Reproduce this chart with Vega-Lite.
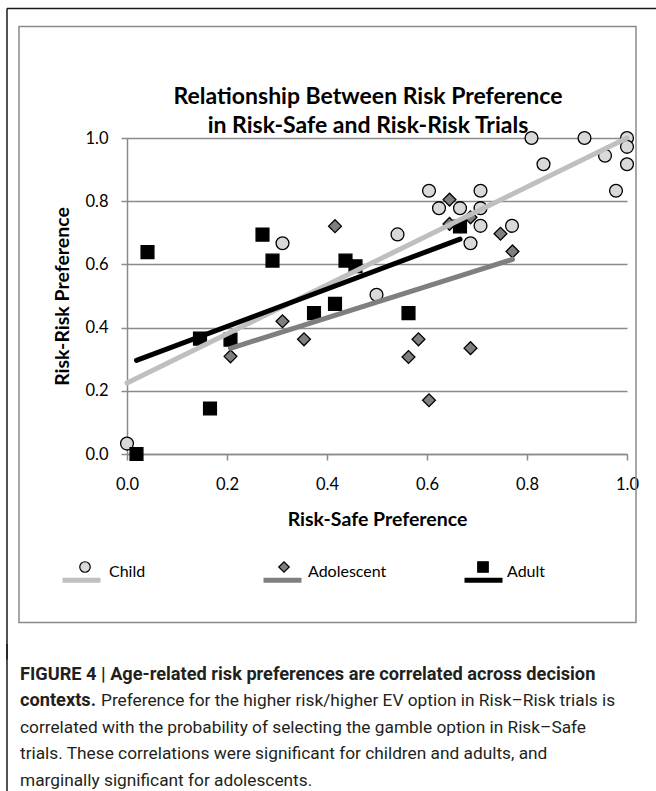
{
  "$schema": "https://vega.github.io/schema/vega-lite/v6.json",
  "background": "#ffffff",
  "padding": {"left": 6, "top": 7, "right": 0, "bottom": 0},
  "spacing": 190,
  "bounds": "flush",
  "config": {"view": {"stroke": null}, "font": "Lato"},
  "datasets": {
    "points": [
      {"group": "Child", "riskSafe": 0.0, "riskRisk": 0.033},
      {"group": "Child", "riskSafe": 0.311, "riskRisk": 0.667},
      {"group": "Child", "riskSafe": 0.499, "riskRisk": 0.504},
      {"group": "Child", "riskSafe": 0.541, "riskRisk": 0.695},
      {"group": "Child", "riskSafe": 0.604, "riskRisk": 0.833},
      {"group": "Child", "riskSafe": 0.624, "riskRisk": 0.778},
      {"group": "Child", "riskSafe": 0.666, "riskRisk": 0.778},
      {"group": "Child", "riskSafe": 0.687, "riskRisk": 0.667},
      {"group": "Child", "riskSafe": 0.707, "riskRisk": 0.833},
      {"group": "Child", "riskSafe": 0.707, "riskRisk": 0.778},
      {"group": "Child", "riskSafe": 0.707, "riskRisk": 0.722},
      {"group": "Child", "riskSafe": 0.77, "riskRisk": 0.722},
      {"group": "Child", "riskSafe": 0.809, "riskRisk": 1.0},
      {"group": "Child", "riskSafe": 0.833, "riskRisk": 0.917},
      {"group": "Child", "riskSafe": 0.915, "riskRisk": 1.0},
      {"group": "Child", "riskSafe": 0.956, "riskRisk": 0.944},
      {"group": "Child", "riskSafe": 0.978, "riskRisk": 0.833},
      {"group": "Child", "riskSafe": 1.0, "riskRisk": 1.0},
      {"group": "Child", "riskSafe": 1.0, "riskRisk": 0.972},
      {"group": "Child", "riskSafe": 1.0, "riskRisk": 0.917},
      {"group": "Adolescent", "riskSafe": 0.207, "riskRisk": 0.309},
      {"group": "Adolescent", "riskSafe": 0.311, "riskRisk": 0.42},
      {"group": "Adolescent", "riskSafe": 0.354, "riskRisk": 0.363},
      {"group": "Adolescent", "riskSafe": 0.416, "riskRisk": 0.721},
      {"group": "Adolescent", "riskSafe": 0.563, "riskRisk": 0.307},
      {"group": "Adolescent", "riskSafe": 0.583, "riskRisk": 0.363},
      {"group": "Adolescent", "riskSafe": 0.604, "riskRisk": 0.17},
      {"group": "Adolescent", "riskSafe": 0.645, "riskRisk": 0.805},
      {"group": "Adolescent", "riskSafe": 0.645, "riskRisk": 0.728},
      {"group": "Adolescent", "riskSafe": 0.687, "riskRisk": 0.749},
      {"group": "Adolescent", "riskSafe": 0.687, "riskRisk": 0.335},
      {"group": "Adolescent", "riskSafe": 0.747, "riskRisk": 0.697},
      {"group": "Adolescent", "riskSafe": 0.771, "riskRisk": 0.641},
      {"group": "Adult", "riskSafe": 0.019, "riskRisk": 0.0},
      {"group": "Adult", "riskSafe": 0.041, "riskRisk": 0.639},
      {"group": "Adult", "riskSafe": 0.146, "riskRisk": 0.365},
      {"group": "Adult", "riskSafe": 0.166, "riskRisk": 0.144},
      {"group": "Adult", "riskSafe": 0.207, "riskRisk": 0.362},
      {"group": "Adult", "riskSafe": 0.271, "riskRisk": 0.694},
      {"group": "Adult", "riskSafe": 0.291, "riskRisk": 0.612},
      {"group": "Adult", "riskSafe": 0.374, "riskRisk": 0.446},
      {"group": "Adult", "riskSafe": 0.416, "riskRisk": 0.475},
      {"group": "Adult", "riskSafe": 0.437, "riskRisk": 0.612},
      {"group": "Adult", "riskSafe": 0.457, "riskRisk": 0.594},
      {"group": "Adult", "riskSafe": 0.563, "riskRisk": 0.446},
      {"group": "Adult", "riskSafe": 0.666, "riskRisk": 0.72}
    ],
    "caption": [
      {"line": 1, "weight": "bold", "first": true, "text": "FIGURE 4 | Age-related risk preferences are correlated across decision"},
      {"line": 2, "weight": "bold", "first": true, "text": "contexts."},
      {"line": 2, "weight": "normal", "first": false, "text": "Preference for the higher risk/higher EV option in Risk–Risk trials is"},
      {"line": 3, "weight": "normal", "first": true, "text": "correlated with the probability of selecting the gamble option in Risk–Safe"},
      {"line": 4, "weight": "normal", "first": true, "text": "trials. These correlations were significant for children and adults, and"},
      {"line": 5, "weight": "normal", "first": true, "text": "marginally significant for adolescents."}
    ]
  },
  "vconcat": [
    {
      "width": 500,
      "height": 316,
      "title": {
        "text": ["Relationship Between Risk Preference", "in Risk-Safe and Risk-Risk Trials"],
        "font": "Lato",
        "fontSize": 23,
        "fontWeight": "bold",
        "color": "#000000",
        "lineHeight": 29,
        "anchor": "middle",
        "frame": "group",
        "dx": -9,
        "offset": -130
      },
      "layer": [
        {
          "data": {"name": "points"},
          "mark": {"type": "point", "filled": true, "opacity": 1, "stroke": "#000000", "strokeWidth": 1.3, "size": 165},
          "encoding": {
            "x": {
              "field": "riskSafe",
              "type": "quantitative",
              "scale": {"domain": [0, 1], "nice": false, "zero": false},
              "axis": {
                "values": [0, 0.2, 0.4, 0.6, 0.8, 1.0],
                "format": ".1f",
                "grid": false,
                "labelFlush": false,
                "domainColor": "#8a8a8a",
                "domainWidth": 1.5,
                "tickColor": "#8a8a8a",
                "tickWidth": 1.5,
                "tickSize": 6,
                "labelFont": "Lato",
                "labelFontSize": 16.5,
                "labelColor": "#000000",
                "labelPadding": 16,
                "title": "Risk-Safe Preference",
                "titleFont": "Lato",
                "titleFontSize": 19.5,
                "titleFontWeight": "bold",
                "titleColor": "#000000",
                "titlePadding": 18
              }
            },
            "y": {
              "field": "riskRisk",
              "type": "quantitative",
              "scale": {"domain": [0, 1], "nice": false, "zero": false},
              "axis": {
                "values": [0, 0.2, 0.4, 0.6, 0.8, 1.0],
                "format": ".1f",
                "grid": true,
                "gridColor": "#8a8a8a",
                "gridWidth": 1.5,
                "labelFlush": false,
                "domainColor": "#8a8a8a",
                "domainWidth": 1.5,
                "tickColor": "#8a8a8a",
                "tickWidth": 1.5,
                "tickSize": 6,
                "labelFont": "Lato",
                "labelFontSize": 16.5,
                "labelColor": "#000000",
                "labelPadding": 13,
                "title": "Risk-Risk Preference",
                "titleFont": "Lato",
                "titleFontSize": 19.5,
                "titleFontWeight": "bold",
                "titleColor": "#000000",
                "titlePadding": 12
              }
            },
            "shape": {
              "field": "group",
              "type": "nominal",
              "scale": {"domain": ["Child", "Adolescent", "Adult"], "range": ["circle", "diamond", "square"]},
              "legend": {
                "orient": "none", "legendX": -50, "legendY": 421, "direction": "horizontal", "title": null,
                "symbolSize": 110, "symbolStrokeColor": "#000000", "symbolStrokeWidth": 1.2, "symbolOpacity": 1,
                "labelFont": "Lato", "labelFontSize": 16, "labelColor": "#000000", "labelOffset": 16,
                "columnPadding": 88, "gridAlign": "all", "padding": 0,
                "encode": {"labels": {"update": {"dy": {"value": 5}}}}
              }
            },
            "fill": {
              "field": "group",
              "type": "nominal",
              "scale": {"domain": ["Child", "Adolescent", "Adult"], "range": ["#d9d9d9", "#7f7f7f", "#000000"]},
              "legend": {
                "orient": "none", "legendX": -50, "legendY": 421, "direction": "horizontal", "title": null,
                "symbolSize": 110, "symbolStrokeColor": "#000000", "symbolStrokeWidth": 1.2, "symbolOpacity": 1,
                "labelFont": "Lato", "labelFontSize": 16, "labelColor": "#000000", "labelOffset": 16,
                "columnPadding": 88, "gridAlign": "all", "padding": 0,
                "encode": {"labels": {"update": {"dy": {"value": 5}}}}
              }
            }
          }
        },
        {
          "data": {"name": "points"},
          "transform": [{"regression": "riskRisk", "on": "riskSafe", "groupby": ["group"]}],
          "mark": {"type": "line", "strokeWidth": 5, "strokeCap": "round"},
          "encoding": {
            "x": {"field": "riskSafe", "type": "quantitative"},
            "y": {"field": "riskRisk", "type": "quantitative"},
            "stroke": {
              "field": "group",
              "type": "nominal",
              "sort": ["Child", "Adolescent", "Adult"],
              "scale": {"range": ["#bfbfbf", "#7f7f7f", "#000000"]},
              "legend": {
                "orient": "none", "legendX": -67, "legendY": 420.5, "direction": "horizontal", "title": null,
                "symbolType": "stroke", "symbolSize": 1444, "symbolStrokeWidth": 5,
                "labelExpr": "''", "labelFontSize": 1, "labelOffset": 0,
                "columnPadding": 142, "gridAlign": "all", "padding": 0
              }
            }
          }
        },
        {
          "data": {"values": [{}]},
          "mark": {"type": "rect", "fill": "transparent", "stroke": "#8a8a8a", "strokeWidth": 1.5},
          "encoding": {
            "x": {"datum": -0.216, "type": "quantitative"},
            "x2": {"datum": 1.018},
            "y": {"datum": 1.353, "type": "quantitative"},
            "y2": {"datum": -0.533}
          }
        },
        {
          "data": {"values": [{}]},
          "mark": {"type": "rule", "color": "#1a1a1a", "strokeWidth": 1.5},
          "encoding": {
            "x": {"datum": -0.24, "type": "quantitative"},
            "y": {"datum": 1.41, "type": "quantitative"},
            "y2": {"datum": -0.65}
          }
        },
        {
          "data": {"values": [{}]},
          "mark": {"type": "rule", "color": "#1a1a1a", "strokeWidth": 1.5},
          "encoding": {
            "x": {"datum": -0.24, "type": "quantitative"},
            "x2": {"datum": 1.06},
            "y": {"datum": 1.41, "type": "quantitative"}
          }
        }
      ]
    },
    {
      "width": 500,
      "height": 147,
      "layer": [
        {
          "data": {"values": [{}]},
          "mark": {"type": "rule", "color": "#1a1a1a", "strokeWidth": 1.5},
          "encoding": {
            "x": {"datum": -0.24, "type": "quantitative", "scale": {"domain": [0, 1], "nice": false, "zero": false}, "axis": null}
          }
        },
        {
          "data": {"name": "caption"},
          "transform": [{"filter": "datum.weight == 'bold'"}],
          "mark": {"type": "text", "align": "left", "baseline": "middle", "font": "Roboto", "fontSize": 18.2, "fontWeight": "bold", "color": "#231f20"},
          "encoding": {
            "x": {"datum": -0.214, "type": "quantitative", "axis": null},
            "y": {"field": "line", "type": "quantitative", "scale": {"domain": [-0.151, 5.396], "nice": false, "zero": false, "reverse": true}, "axis": null},
            "text": {"field": "text"}
          }
        },
        {
          "data": {"name": "caption"},
          "transform": [{"filter": "datum.weight == 'normal' && datum.first"}],
          "mark": {"type": "text", "align": "left", "baseline": "middle", "font": "Roboto", "fontSize": 17.3, "color": "#231f20"},
          "encoding": {
            "x": {"datum": -0.214, "type": "quantitative", "axis": null},
            "y": {"field": "line", "type": "quantitative", "axis": null},
            "text": {"field": "text"}
          }
        },
        {
          "data": {"name": "caption"},
          "transform": [{"filter": "datum.weight == 'normal' && !datum.first"}],
          "mark": {"type": "text", "align": "left", "baseline": "middle", "dx": 81, "font": "Roboto", "fontSize": 17.3, "color": "#231f20"},
          "encoding": {
            "x": {"datum": -0.214, "type": "quantitative", "axis": null},
            "y": {"field": "line", "type": "quantitative", "axis": null},
            "text": {"field": "text"}
          }
        }
      ]
    }
  ]
}
